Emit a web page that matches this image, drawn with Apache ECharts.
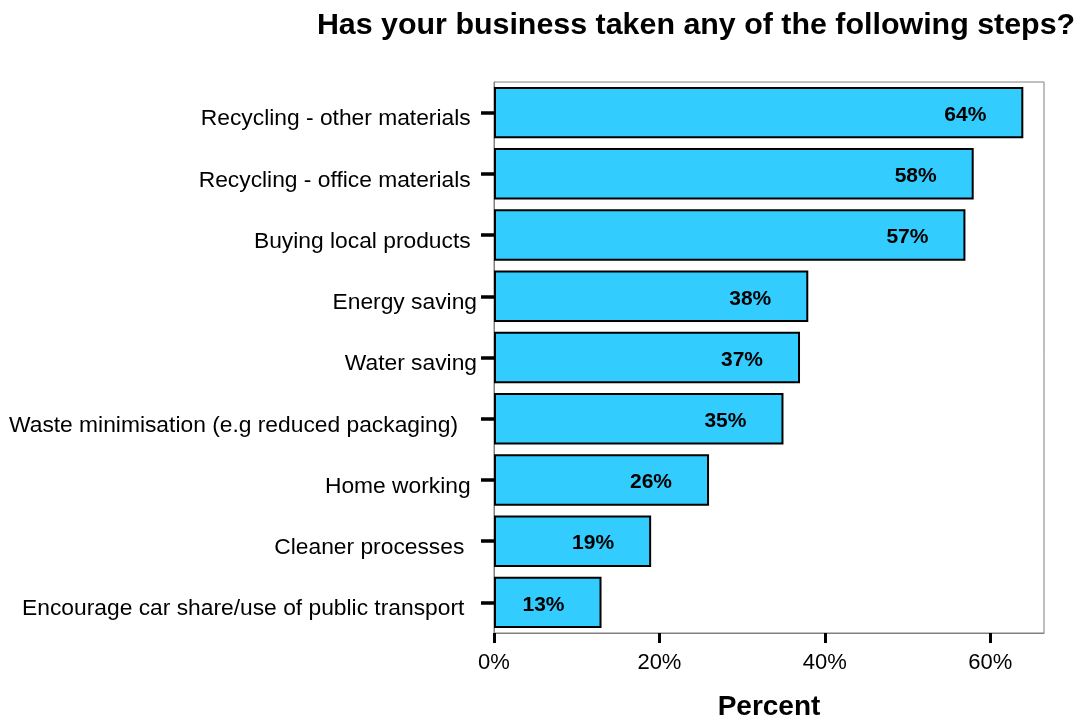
<!DOCTYPE html>
<html>
<head>
<meta charset="utf-8">
<title>Has your business taken any of the following steps?</title>
<script src="https://cdn.jsdelivr.net/npm/echarts@6/dist/echarts.min.js"></script>
<style>
  html, body { margin: 0; padding: 0; background: #ffffff; }
  #chart { width: 1082px; height: 718px; }
</style>
</head>
<body>
<div id="chart"></div>
<script>
// Survey steps (top to bottom) and share of businesses taking each step
const categories = [
  'Recycling - other materials ',
  'Recycling - office materials ',
  'Buying local products ',
  'Energy saving',
  'Water saving',
  'Waste minimisation (e.g reduced packaging)   ',
  'Home working ',
  'Cleaner processes  ',
  'Encourage car share/use of public transport  '
];
const percents = [64, 58, 57, 38, 37, 35, 26, 19, 13];
const xTicks = [0, 20, 40, 60];

const FONT = '"Liberation Sans", Arial, sans-serif';
const chart = echarts.init(document.getElementById('chart'), null, { renderer: 'canvas' });

chart.setOption({
  animation: false,
  backgroundColor: '#ffffff',
  title: {
    text: 'Has your business taken any of the following steps?',
    left: 691,
    top: 6,
    textAlign: 'center',
    textStyle: { fontFamily: FONT, fontSize: 30.4, fontWeight: 'bold', color: '#000' }
  },
  grid: {
    left: 494, right: 38, top: 82, bottom: 85,
    outerBoundsMode: 'none',
    containLabel: false,
    show: true, borderColor: '#808080', borderWidth: 1, backgroundColor: 'transparent'
  },
  xAxis: {
    type: 'value',
    min: 0,
    max: 66.5,
    interval: 20,
    name: 'Percent',
    nameLocation: 'middle',
    nameGap: 60,
    nameTextStyle: { fontFamily: FONT, fontSize: 28, fontWeight: 'bold', color: '#000' },
    splitLine: { show: false },
    axisLine: { show: true, lineStyle: { color: '#808080', width: 1 } },
    axisTick: { show: true, length: 10, customValues: xTicks, lineStyle: { color: '#000', width: 3 } },
    axisLabel: {
      customValues: xTicks,
      formatter: v => v + '%',
      margin: 19,
      fontFamily: FONT, fontSize: 22, color: '#000'
    }
  },
  yAxis: {
    type: 'category',
    data: categories,
    inverse: true,
    axisLine: { show: true, lineStyle: { color: '#808080', width: 1 } },
    axisTick: { show: true, alignWithLabel: true, length: 13, lineStyle: { color: '#000', width: 3.5 } },
    axisLabel: {
      margin: 17,
      formatter: v => '{c|' + v + '}',
      rich: { c: { padding: [13, 0, 0, 0], fontFamily: FONT, fontSize: 22.8, color: '#000' } },
      fontFamily: FONT, fontSize: 22.8, color: '#000'
    },
    splitLine: { show: false }
  },
  series: [{
    type: 'bar',
    data: percents,
    barWidth: '84%',
    itemStyle: { color: '#33CCFF', borderColor: '#000', borderWidth: 2 },
    label: {
      show: true,
      position: 'insideRight',
      distance: 37,
      formatter: p => '{v|' + p.value + '%}',
      rich: { v: { padding: [5, 0, 0, 0], fontFamily: FONT, fontSize: 21, fontWeight: 'bold', color: '#000' } },
      fontFamily: FONT, fontSize: 21, fontWeight: 'bold', color: '#000'
    }
  }]
});
</script>
</body>
</html>
